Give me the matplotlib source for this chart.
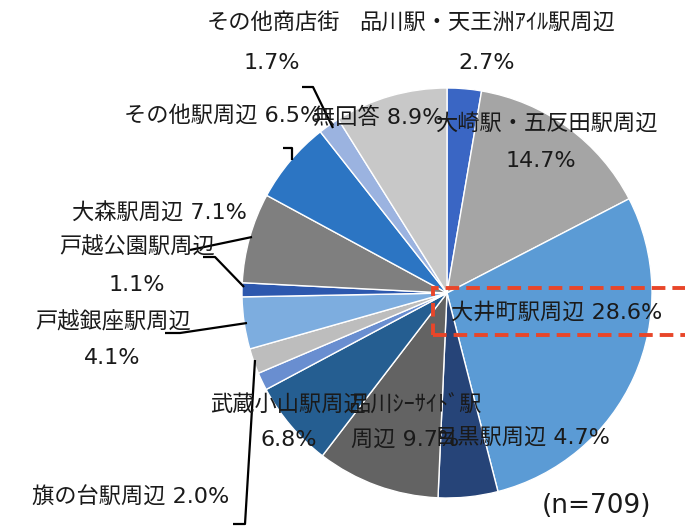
import matplotlib
matplotlib.use('Agg')
import matplotlib.pyplot as plt
from matplotlib.patches import Rectangle

# Latin digits from DejaVu (wider, like the reference), kana/kanji from Noto CJK
plt.rcParams['font.family'] = ['DejaVu Sans', 'Noto Sans CJK JP']

# data (clockwise from 12 o'clock)
labels = ['品川駅・天王洲ｱｲﾙ駅周辺', '大崎駅・五反田駅周辺', '大井町駅周辺', '目黒駅周辺',
          '品川ｼｰｻｲﾄﾞ駅周辺', '武蔵小山駅周辺', '', '旗の台駅周辺', '戸越銀座駅周辺',
          '戸越公園駅周辺', '大森駅周辺', 'その他駅周辺', 'その他商店街', '無回答']
shares = [2.7, 14.7, 28.6, 4.7, 9.7, 6.8, 1.4, 2.0, 4.1, 1.1, 7.1, 6.5, 1.7, 8.9]
colors = ['#3A66C4', '#A5A5A5', '#5B9BD5', '#264478', '#636363', '#255E91', '#698ED0',
          '#BDBDBD', '#7DADDF', '#2D58AE', '#7F7F7F', '#2C75C3', '#9BB3E0', '#C8C8C8']
n_total = 709

W, H = 685, 526


def py(y):
    '''pixel row (top-down) to data y'''
    return H - y


fig = plt.figure(figsize=(W / 100, H / 100), dpi=100)
ax = fig.add_axes([0, 0, 1, 1])

ax.pie(shares, colors=colors, startangle=90, counterclock=False,
       center=(447, py(293)), radius=205,
       wedgeprops=dict(edgecolor='white', linewidth=1.0), frame=True)
ax.set_xlim(0, W)
ax.set_ylim(0, H)
ax.axis('off')

fs = 16


def txt(x, y, s, ha='center', size=fs):
    ax.text(x, py(y), s, ha=ha, va='center', fontsize=size, color='#1a1a1a')


def pct(i):
    return f'{shares[i]}%'


# labels, laid out as in the reference
txt(487, 23, labels[0])
txt(487, 63, pct(0))
txt(546, 123, labels[1])
txt(541, 161, pct(1))
txt(557, 312, f'{labels[2]} {pct(2)}')
txt(522, 438, f'{labels[3]} {pct(3)}')
txt(415, 405, '品川ｼｰｻｲﾄﾞ駅')
txt(405, 440, f'周辺 {pct(4)}')
txt(288, 404, labels[5])
txt(289, 440, pct(5))
txt(131, 497, f'{labels[7]} {pct(7)}')
txt(113, 322, labels[8])
txt(112, 358, pct(8))
txt(137, 247, labels[9])
txt(137, 285, pct(9))
txt(159, 213, f'{labels[10]} {pct(10)}')
txt(223, 115, f'{labels[11]} {pct(11)}')
txt(273, 23, labels[12])
txt(272, 63, pct(12))
txt(378, 117, f'{labels[13]} {pct(13)}')
txt(597, 506, f'(n={n_total})', size=19)

# leader lines
leaders = [
    [(302, 87), (313, 87), (333, 128)],
    [(283, 148), (292, 148), (292, 160)],
    [(190, 250), (252, 237)],
    [(203, 257), (215, 257), (244, 287)],
    [(165, 333), (180, 333), (247, 323)],
    [(233, 524), (245, 524), (255, 360)],
]
for pts in leaders:
    ax.plot([p[0] for p in pts], [py(p[1]) for p in pts], color='black', lw=1.6,
            solid_capstyle='butt')

# highlight box
ax.add_patch(Rectangle((433, py(335)), 270, 47, fill=False, edgecolor='#E8462A',
                       lw=2.8, ls=(0, (3.5, 1.8)), clip_on=False))

fig.savefig('out.png', dpi=100)
